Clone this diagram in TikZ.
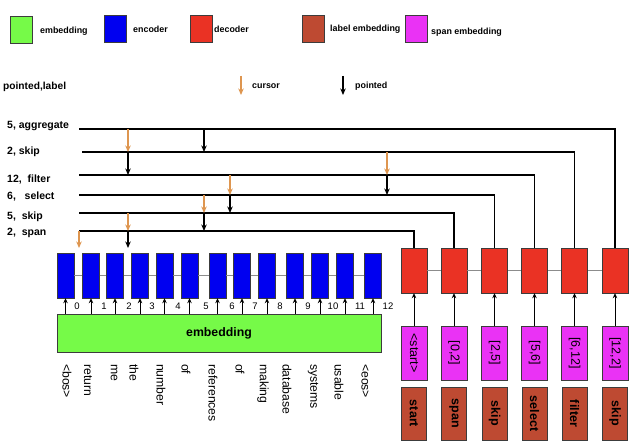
\documentclass[tikz,border=0pt]{standalone}
\usepackage{fontspec}
\setmainfont{Liberation Sans}
\usetikzlibrary{arrows.meta,calc}
\definecolor{embG}{RGB}{118,250,72}
\definecolor{encB}{RGB}{0,0,240}
\definecolor{decR}{RGB}{234,50,36}
\definecolor{labB}{RGB}{190,74,50}
\definecolor{spanM}{RGB}{234,50,245}
\definecolor{curO}{RGB}{222,150,80}
\definecolor{bord}{RGB}{60,60,60}
\begin{document}
\begin{tikzpicture}[x=1pt,y=-1pt,
  enc/.style={draw=bord,fill=encB,minimum width=17pt,minimum height=45pt,inner sep=0pt},
  dec/.style={draw=bord,fill=decR,minimum width=26pt,minimum height=45pt,inner sep=0pt},
  spn/.style={draw=bord,fill=spanM,minimum width=26pt,minimum height=54pt,inner sep=0pt},
  lab/.style={draw=bord,fill=labB,minimum width=25pt,minimum height=53pt,inner sep=0pt},
  leg/.style={draw=bord,line width=0.8pt,minimum width=22pt,minimum height=27pt,inner sep=0pt},
  legtxt/.style={font=\fontsize{8.9}{10}\selectfont\bfseries,anchor=west,inner sep=0pt},
  linelbl/.style={font=\fontsize{10.5}{12}\selectfont\bfseries,anchor=west,inner sep=0pt},
  numlbl/.style={font=\fontsize{9.5}{10}\selectfont,inner sep=0pt},
  word/.style={font=\fontsize{12.2}{14}\selectfont,rotate=-90,anchor=west,inner sep=0pt},
  boxtxt/.style={font=\fontsize{12.5}{14}\selectfont,rotate=-90,inner sep=0pt},
  boxbold/.style={font=\fontsize{12.5}{14}\selectfont\bfseries,rotate=-90,inner sep=0pt},
  ln/.style={draw=black,line width=1.3pt},
  cur/.style={draw=curO,line width=1.2pt,-{Stealth[length=6.5pt,width=5.5pt]}},
  pnt/.style={draw=black,line width=1.2pt,-{Stealth[length=6.5pt,width=5.5pt]}},
  up/.style={draw=black,line width=0.9pt,-{Stealth[length=5pt,width=4.5pt]}},
  link/.style={draw=black!45,line width=1pt}
]
\useasboundingbox (0,0) rectangle (640,444);

% ---------- legend ----------
\node[leg,fill=embG] (lg1) at (21,30) {};
\node[legtxt] (lt1) at (40,31) {embedding};
\node[leg,fill=encB] (lg2) at (115.5,29) {};
\node[legtxt] (lt2) at (133,29) {encoder};
\node[leg,fill=decR] (lg3) at (201.5,29) {};
\node[legtxt] (lt3) at (214,29) {decoder};
\node[leg,fill=labB] (lg4) at (313.5,29) {};
\node[legtxt] (lt4) at (330,29) {label embedding};
\node[leg,fill=spanM] (lg5) at (416,29) {};
\node[legtxt] (lt5) at (431,32) {span embedding};

\node[font=\fontsize{10.2}{12}\selectfont\bfseries,anchor=west,inner sep=0pt] (pl) at (3,87) {pointed,label};
\coordinate (lc1) at (241,76);
\coordinate (lc2) at (241,95);
\draw[cur] (lc1) -- (lc2);
\node[legtxt] (lct) at (252,86) {cursor};
\coordinate (lp1) at (343,76);
\coordinate (lp2) at (343,95);
\draw[pnt] (lp1) -- (lp2);
\node[legtxt] (lpt) at (355,86) {pointed};

% ---------- encoder ----------
\foreach \i/\x in {0/65.5,1/91,2/115,3/140,4/164.5,5/189.5,6/217.5,7/242,8/267,9/295,10/320,11/345,12/373}{
  \node[enc] (e\i) at (\x,275.5) {};
}
\foreach \a/\b in {0/1,1/2,2/3,3/4,4/5,5/6,6/7,7/8,8/9,9/10,10/11,11/12}{
  \draw[link] (e\a.east) -- (e\b.west);
}
\node[draw=bord,fill=embG,minimum width=324pt,minimum height=38pt,inner sep=0pt,
      font=\fontsize{12.3}{14}\selectfont\bfseries] (emb) at (219,333) {embedding};
\foreach \i in {0,...,12}{
  \draw[up] (emb.north -| e\i) -- (e\i.south);
}
\foreach \n/\x in {0/77,1/104,2/129,3/152,4/178,5/206,6/232,7/255,8/280,9/308,10/333,11/360,12/388}{
  \node[numlbl] (n\n) at (\x,306) {\n};
}
\foreach \k/\w/\x in {1/<bos>/67,2/return/88,3/me/114,4/the/134,5/number/161,6/of/186,7/references/213,8/of/240,9/making/263,10/database/287,11/systems/313,12/usable/339,13/<eos>/365}{
  \node[word] (w\k) at (\x,364) {\w};
}

% ---------- decoder ----------
\foreach \i/\x/\s/\l in {1/414/<start>/start,2/454/{[0,2]}/span,3/494.5/{[2,5]}/skip,4/534.5/{[5,6]}/select,5/574.5/{[6,12]}/filter,6/615/{[12,2]}/skip}{
  \node[dec] (d\i) at (\x,270.5) {};
  \node[spn] (s\i) at (\x,353) {};
  \node[boxtxt] (st\i) at (s\i) {\s};
  \node[lab] (l\i) at (\x,413.5) {};
  \node[boxbold] (lt\i) at (l\i) {\l};
  \draw[up] (s\i.north) -- (d\i.south);
}
\foreach \a/\b in {1/2,2/3,3/4,4/5,5/6}{
  \draw[link] (d\a.east) -- (d\b.west);
}

% ---------- pointer lines ----------
\node[linelbl] (t1) at (7,126) {5, aggregate};
\node[linelbl] (t2) at (7,152) {2, skip};
\node[linelbl] (t3) at (7,180) {12,\ \ filter};
\node[linelbl] (t4) at (7,197) {6,\ \ \ select};
\node[linelbl] (t5) at (7,217) {5,\ \ skip};
\node[linelbl] (t6) at (7,233) {2,\ \ span};

\coordinate (L1) at (79,129);
\coordinate (L2) at (82,152);
\coordinate (L3) at (79,175);
\coordinate (L4) at (79,195);
\coordinate (L5) at (79,213);
\coordinate (L6) at (79,231);

\draw[ln] (L1) -| (d6.north);
\draw[ln] (L2) -| (d5.north);
\draw[ln] (L3) -| (d4.north);
\draw[ln] (L4) -| (d3.north);
\draw[ln] (L5) -| (d2.north);
\draw[ln] (L6) -| (d1.north);

\coordinate (p0) at (79,248);
\coordinate (p2) at (128,248);
\coordinate (p5) at (204,248);
\coordinate (p6) at (230,248);
\coordinate (p12) at (387,248);

% 5, aggregate : cursor 2, pointed 5
\draw[cur] (L1 -| p2) -- (L2 -| p2);
\draw[pnt] (L1 -| p5) -- (L2 -| p5);
% 2, skip : cursor 12, pointed 2
\draw[cur] (L2 -| p12) -- (L3 -| p12);
\draw[pnt] (L2 -| p2) -- (L3 -| p2);
% 12, filter : cursor 6, pointed 12
\draw[cur] (L3 -| p6) -- (L4 -| p6);
\draw[pnt] (L3 -| p12) -- (L4 -| p12);
% 6, select : cursor 5, pointed 6
\draw[cur] (L4 -| p5) -- (L5 -| p5);
\draw[pnt] (L4 -| p6) -- (L5 -| p6);
% 5, skip : cursor 2, pointed 5
\draw[cur] (L5 -| p2) -- (L6 -| p2);
\draw[pnt] (L5 -| p5) -- (L6 -| p5);
% 2, span : cursor 0, pointed 2
\draw[cur] (L6) -- (p0);
\draw[pnt] (L6 -| p2) -- (p2);
\end{tikzpicture}
\end{document}
